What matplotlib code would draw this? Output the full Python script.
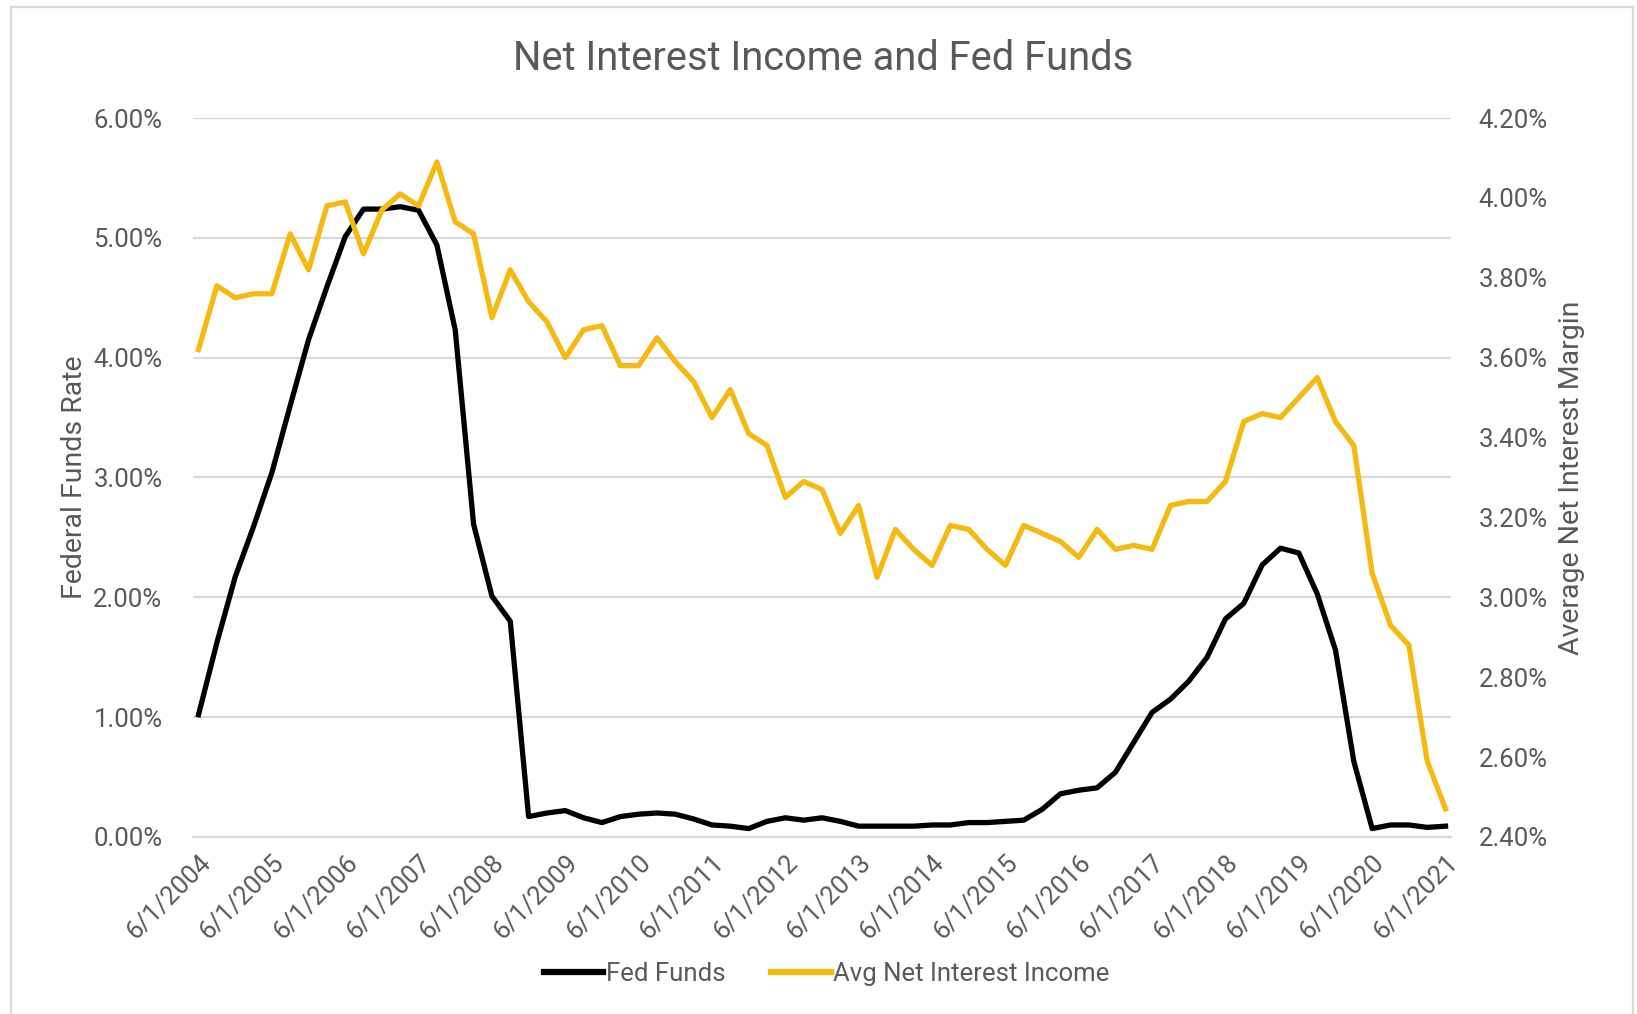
import matplotlib
matplotlib.use("Agg")
import matplotlib.pyplot as plt
from matplotlib.lines import Line2D
from matplotlib.patches import Rectangle
import matplotlib.ticker as mticker

plt.rcParams['font.family'] = ['Roboto', 'DejaVu Sans']

# Quarterly observations, 6/1/2004 through 6/1/2021
fed_funds = [
    1.02, 1.62, 2.17, 2.59, 3.04, 3.60, 4.15, 4.59, 5.01, 5.24,
    5.24, 5.26, 5.23, 4.94, 4.23, 2.61, 2.01, 1.80, 0.17, 0.20,
    0.22, 0.16, 0.12, 0.17, 0.19, 0.20, 0.19, 0.15, 0.10, 0.09,
    0.07, 0.13, 0.16, 0.14, 0.16, 0.13, 0.09, 0.09, 0.09, 0.09,
    0.10, 0.10, 0.12, 0.12, 0.13, 0.14, 0.23, 0.36, 0.39, 0.41,
    0.54, 0.79, 1.04, 1.15, 1.30, 1.50, 1.82, 1.95, 2.27, 2.41,
    2.37, 2.03, 1.56, 0.63, 0.07, 0.10, 0.10, 0.08, 0.09,
]
net_interest_margin = [
    3.62, 3.78, 3.75, 3.76, 3.76, 3.91, 3.82, 3.98, 3.99, 3.86,
    3.97, 4.01, 3.98, 4.09, 3.94, 3.91, 3.70, 3.82, 3.74, 3.69,
    3.60, 3.67, 3.68, 3.58, 3.58, 3.65, 3.59, 3.54, 3.45, 3.52,
    3.41, 3.38, 3.25, 3.29, 3.27, 3.16, 3.23, 3.05, 3.17, 3.12,
    3.08, 3.18, 3.17, 3.12, 3.08, 3.18, 3.16, 3.14, 3.10, 3.17,
    3.12, 3.13, 3.12, 3.23, 3.24, 3.24, 3.29, 3.44, 3.46, 3.45,
    3.50, 3.55, 3.44, 3.38, 3.06, 2.93, 2.88, 2.59, 2.47,
]
tick_labels = [
    "6/1/2004", "6/1/2005", "6/1/2006", "6/1/2007", "6/1/2008", "6/1/2009",
    "6/1/2010", "6/1/2011", "6/1/2012", "6/1/2013", "6/1/2014", "6/1/2015",
    "6/1/2016", "6/1/2017", "6/1/2018", "6/1/2019", "6/1/2020", "6/1/2021",
]

TEXT = '#595959'
GRID = '#d9d9d9'
GOLD = '#F4BA12'

fig = plt.figure(figsize=(16.37, 10.14), dpi=100)
fig.patch.set_facecolor('white')

# outer chart frame
fig.patches.append(Rectangle((11 / 1637, -0.05), (1633 - 11) / 1637, 1.05 - 7 / 1014,
                             transform=fig.transFigure, fill=False,
                             edgecolor=GRID, linewidth=1.6))

ax = fig.add_axes([0.1179, 0.1746, 0.8864 - 0.1179, 0.8836 - 0.1746])
ax2 = ax.twinx()

x = list(range(len(fed_funds)))
ax.plot(x, fed_funds, color='black', lw=3.8, solid_joinstyle='round', zorder=3)
ax2.plot(x, net_interest_margin, color=GOLD, lw=3.8, solid_joinstyle='round', zorder=3)

ax.set_ylim(0, 6)
ax2.set_ylim(2.4, 4.2)
ax.set_xlim(-0.3, len(fed_funds) - 0.7)

ax.yaxis.set_major_locator(mticker.MultipleLocator(1))
ax2.yaxis.set_major_locator(mticker.MultipleLocator(0.2))
ax.yaxis.set_major_formatter(mticker.FuncFormatter(lambda v, p: f"{v:.2f}%"))
ax2.yaxis.set_major_formatter(mticker.FuncFormatter(lambda v, p: f"{v:.2f}%"))

ax.grid(axis='y', color=GRID, lw=1.6)
ax.set_axisbelow(True)
for a in (ax, ax2):
    for s in a.spines.values():
        s.set_visible(False)
ax.spines['bottom'].set_visible(True)
ax.spines['bottom'].set_color(GRID)
ax.spines['bottom'].set_linewidth(1.6)

ax.set_xticks(x[::4])
ax.set_xticklabels(tick_labels, rotation=45, ha='right', rotation_mode='anchor')
ax.tick_params(axis='x', length=0, pad=10, labelsize=18.5, labelcolor=TEXT)
ax.tick_params(axis='y', length=0, pad=22, labelsize=18.5, labelcolor=TEXT)
ax2.tick_params(axis='y', length=0, pad=20, labelsize=18.5, labelcolor=TEXT)

fig.text(0.0458, 0.529, "Federal Funds Rate", rotation=90, ha='center', va='center',
         fontsize=20.5, color=TEXT)
fig.text(0.9597, 0.529, "Average Net Interest Margin", rotation=90, ha='center', va='center',
         fontsize=20.5, color=TEXT)
fig.text(0.503, 0.942, "Net Interest Income and Fed Funds", ha='center', va='center',
         fontsize=28.7, color=TEXT)

handles = [Line2D([], [], color='black', lw=4.5), Line2D([], [], color=GOLD, lw=4.5)]
fig.legend(handles, ["Fed Funds", "Avg Net Interest Income"], loc='center',
           bbox_to_anchor=(0.505, 0.0395), ncol=2, frameon=False, fontsize=18.5,
           labelcolor=TEXT, handlelength=2.3, handletextpad=0.1, columnspacing=1.8)

fig.savefig("out.png", dpi=100, facecolor='white')
